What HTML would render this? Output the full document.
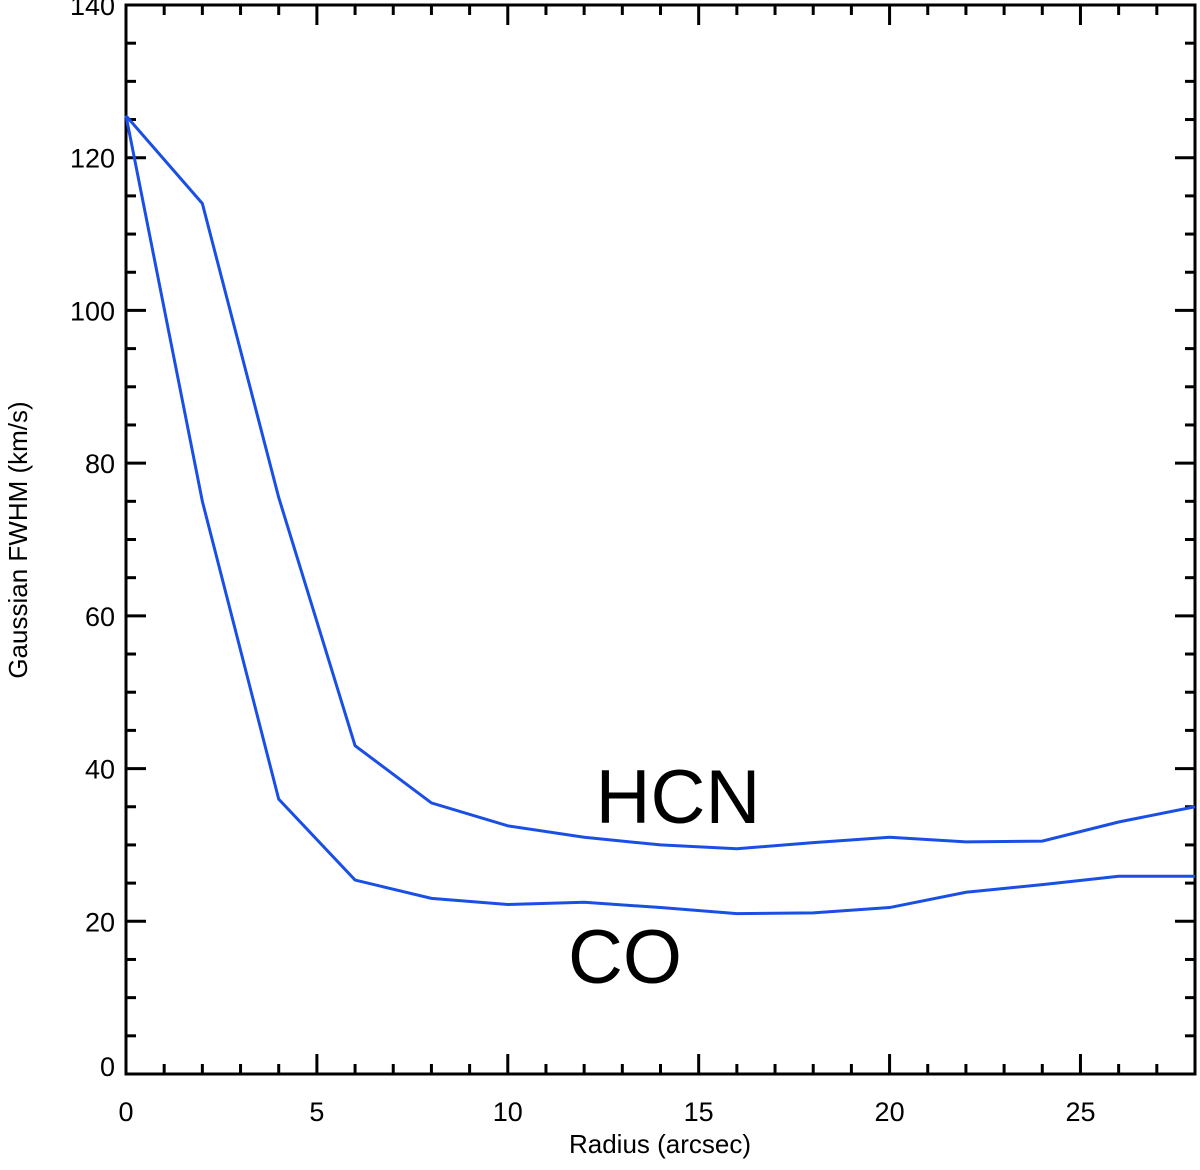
<!DOCTYPE html>
<html><head><meta charset="utf-8"><style>
html,body{margin:0;padding:0;background:#fff;}
svg{display:block;font-family:"Liberation Sans",sans-serif;}
</style></head><body>
<svg id="chart" width="1200" height="1170" viewBox="0 0 1200 1170" xmlns="http://www.w3.org/2000/svg">
<g id="axes"></g>
<g id="series"></g>
<text x="678" y="823" font-size="76" text-anchor="middle" fill="#000">HCN</text>
<text x="625" y="983" font-size="76" text-anchor="middle" fill="#000">CO</text>
<text x="660" y="1153" font-size="26" text-anchor="middle" fill="#000">Radius (arcsec)</text>
<text transform="translate(27,540) rotate(-90)" font-size="26" text-anchor="middle" fill="#000">Gaussian FWHM (km/s)</text>
</svg>
<script>
const radius=[0,2,4,6,8,10,12,14,16,18,20,22,24,26,28];
const hcnValues=[125.5,114,75.5,43,35.5,32.5,31,30,29.5,30.3,31,30.4,30.5,33,35];
const coValues=[125.5,75,36,25.4,23,22.2,22.5,21.8,21,21.1,21.8,23.8,24.8,25.9,25.9];
const xTicks=[0,5,10,15,20,25];
const yTicks=[0,20,40,60,80,100,120,140];
const X0=126,X1=1195,Y0=1074,Y1=5,XMAX=28,YMAX=140;
const sx=v=>X0+(X1-X0)*v/XMAX;
const sy=v=>Y0-(Y0-Y1)*v/YMAX;
const NS="http://www.w3.org/2000/svg";
const ax=document.getElementById('axes');
function ln(x1,y1,x2,y2,w,name){const l=document.createElementNS(NS,'line');l.setAttribute('x1',x1);l.setAttribute('y1',y1);l.setAttribute('x2',x2);l.setAttribute('y2',y2);l.setAttribute('stroke','#000');l.setAttribute('stroke-width',w);


ax.appendChild(l);}
const fr=document.createElementNS(NS,'rect');
fr.setAttribute('x',X0);fr.setAttribute('y',Y1);fr.setAttribute('width',X1-X0);fr.setAttribute('height',Y0-Y1);fr.setAttribute('fill','none');fr.setAttribute('stroke','#000');fr.setAttribute('stroke-width',3);


ax.appendChild(fr);
for(let v=1;v<XMAX;v++){const L=v%5===0?20:10;const x=sx(v);ln(x,Y0,x,Y0-L,3,'x-tick');ln(x,Y1,x,Y1+L,3,'x-tick-top');}
for(let v=5;v<YMAX;v+=5){const L=v%20===0?20:10;const y=sy(v);ln(X0,y,X0+L,y,3,'y-tick');ln(X1,y,X1-L,y,3,'y-tick-right');}
xTicks.forEach(v=>{const t=document.createElementNS(NS,'text');t.setAttribute('x',sx(v));t.setAttribute('y',Y0+47);t.setAttribute('font-size','27');t.setAttribute('text-anchor','middle');t.textContent=v;


ax.appendChild(t);});
yTicks.forEach(v=>{const t=document.createElementNS(NS,'text');t.setAttribute('x',X0-11);t.setAttribute('y',sy(v)+(v===0?2:10));t.setAttribute('font-size','27');t.setAttribute('text-anchor','end');t.textContent=v;


ax.appendChild(t);});
const sg=document.getElementById('series');
function line(vals,name){const p=document.createElementNS(NS,'polyline');p.setAttribute('points',radius.map((r,i)=>sx(r)+','+sy(vals[i])).join(' '));p.setAttribute('fill','none');p.setAttribute('stroke','#1a4fe6');p.setAttribute('stroke-width','3');


sg.appendChild(p);}
line(hcnValues,'hcn-line');
line(coValues,'co-line');
</script>
</body></html>
